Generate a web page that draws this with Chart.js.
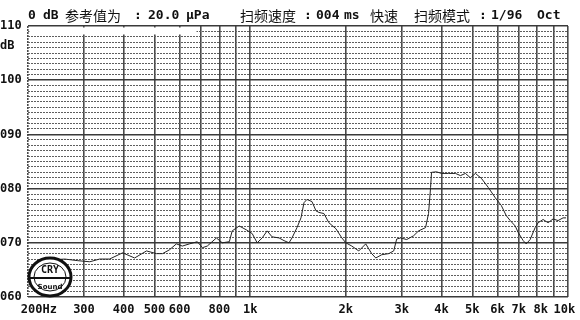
<!DOCTYPE html>
<html><head><meta charset="utf-8">
<script src="https://cdn.jsdelivr.net/npm/chart.js@4/dist/chart.umd.min.js"></script>
<style>html,body{margin:0;padding:0;background:#fff}</style>
</head><body>
<canvas id="c" width="580" height="320"></canvas>
<script>
// ---- data ----
const freqs = [230, 261, 287, 313, 336, 361, 397, 433, 472, 507, 530, 557, 586, 612, 644, 682, 708, 733, 783, 817, 860, 878, 924, 972, 1015, 1052, 1091, 1131, 1172, 1233, 1278, 1325, 1354, 1404, 1445, 1477, 1509, 1565, 1611, 1646, 1706, 1769, 1861, 1943, 2000, 2088, 2196, 2310, 2412, 2484, 2594, 2728, 2829, 2891, 2976, 3107, 3268, 3388, 3563, 3641, 3695, 3721, 3857, 4000, 4206, 4425, 4588, 4757, 4931, 5113, 5338, 5615, 5906, 6166, 6394, 6580, 6823, 6972, 7228, 7386, 7602, 7882, 8054, 8350, 8658, 8974, 9305, 9649, 9860];
const levels = [66.8, 67.0, 66.7, 66.5, 67.0, 67.0, 68.15, 67.2, 68.5, 68.0, 68.0, 68.7, 69.8, 69.4, 69.8, 70.2, 69.1, 69.4, 70.9, 70.0, 70.2, 72.2, 73.1, 72.4, 71.7, 70.0, 70.9, 72.2, 71.1, 70.9, 70.4, 70.0, 70.9, 72.8, 74.6, 77.4, 78.0, 77.6, 75.9, 75.6, 75.4, 73.7, 72.6, 70.9, 70.0, 69.4, 68.5, 69.8, 68.0, 67.2, 67.8, 68.0, 68.5, 70.7, 70.9, 70.6, 71.3, 72.2, 72.8, 75.4, 80.2, 83.0, 83.1, 82.8, 82.8, 82.8, 82.4, 82.8, 82.0, 82.8, 81.9, 80.2, 78.3, 76.9, 75.0, 74.1, 73.1, 71.9, 70.4, 69.8, 70.6, 72.8, 73.7, 74.3, 73.7, 74.4, 74.1, 74.6, 74.6];
const xGridValues = [200, 300, 400, 500, 600, 700, 800, 900, 1000, 2000, 3000, 4000, 5000, 6000, 7000, 8000, 9000, 10000];
const xTickLabels = ['   200Hz', '300', '400', '500', '600', '', '800', '', '1k', '2k', '3k', '4k', '5k', '6k', '7k', ' 8k', '', '10k '];
const yMin = 60, yMax = 110;
const yLabelValues = [60, 70, 80, 90, 100, 110];
const yLabelTexts = ['060', '070', '080', '090', '100', '110'];
const titleParts = [
  ['0', 28, 'a'], ['dB', 43, 'a'], ['参考值为', 65, 'c'], [':', 134, 'a'], ['20.0', 148, 'a'], ['μPa', 186, 'a'],
  ['扫频速度', 240, 'c'], [':', 304, 'a'], ['004', 316, 'a'], ['ms', 344, 'a'], ['快速', 370, 'c'],
  ['扫频模式', 414, 'c'], [':', 479, 'a'], ['1/96', 491, 'a'], ['Oct', 537, 'a']
];

const MONO = '"DejaVu Sans Mono", "Liberation Mono", monospace';

const decor = {
  id: 'decor',
  beforeDatasetsDraw(chart) {
    const ctx = chart.ctx, a = chart.chartArea;
    ctx.save();
    ctx.fillStyle = '#fff';
    ctx.fillRect(a.left + 1.5, a.top + 1.5, 167, 7);
    ctx.restore();
  },
  afterDraw(chart) {
    const ctx = chart.ctx;
    ctx.save();
    ctx.textBaseline = 'middle';
    ctx.textAlign = 'left';
    ctx.fillStyle = '#111';
    for (const [t, x, k] of titleParts) {
      ctx.font = k === 'a' ? 'bold 13px ' + MONO : '14px "Noto Sans CJK SC"';
      ctx.fillText(t, x, 16);
    }
    ctx.font = 'bold 12px ' + MONO;
    ctx.fillText('dB', 0, 46);
    // logo
    const cx = 50, cy = 277;
    ctx.beginPath(); ctx.ellipse(cx, cy, 21, 19, 0, 0, Math.PI * 2);
    ctx.fillStyle = '#fff'; ctx.fill();
    ctx.lineWidth = 3; ctx.strokeStyle = '#111'; ctx.stroke();
    ctx.beginPath(); ctx.ellipse(cx, cy, 16, 14, 0, 0, Math.PI * 2);
    ctx.lineWidth = 1; ctx.stroke();
    ctx.beginPath(); ctx.moveTo(cx - 20, cy + 1); ctx.lineTo(cx + 20, cy + 1); ctx.lineWidth = 2; ctx.stroke();
    ctx.fillStyle = '#111'; ctx.textAlign = 'center';
    ctx.font = 'bold 10px ' + MONO; ctx.fillText('CRY', cx, cy - 7);
    ctx.font = 'bold 7px "DejaVu Sans"'; ctx.fillText('Sound', cx, cy + 10);
    ctx.restore();
  }
};

new Chart(document.getElementById('c'), {
  type: 'line',
  data: {
    datasets: [{
      data: freqs.map((f, i) => ({ x: f, y: levels[i] })),
      borderColor: '#222',
      borderWidth: 1,
      pointRadius: 0,
      tension: 0,
      fill: false
    }]
  },
  options: {
    responsive: false,
    animation: false,
    devicePixelRatio: 1,
    layout: { padding: { top: 26, right: 12, left: 0, bottom: 0 } },
    plugins: { legend: { display: false }, tooltip: { enabled: false }, title: { display: false } },
    scales: {
      x: {
        type: 'logarithmic',
        min: 200, max: 10000,
        afterBuildTicks: (s) => { s.ticks = xGridValues.map(v => ({ value: v })); },
        afterFit: (s) => { s.height = 23; s.paddingLeft = 0; s.paddingRight = 0; },
        ticks: {
          autoSkip: false, maxRotation: 0, minRotation: 0, padding: 6,
          color: '#111', font: { family: MONO, size: 12, weight: 'bold' },
          callback: (v) => { const i = xGridValues.indexOf(v); return i >= 0 ? xTickLabels[i] : ''; }
        },
        grid: { color: '#4a4a4a', lineWidth: 1.6, drawTicks: false },
        border: {
          display: false,
          dash: (ctx) => (ctx.index === 0 ? [2, 1] : [])
        }
      },
      y: {
        min: yMin, max: yMax,
        afterFit: (s) => { s.width = 28; s.paddingTop = 0; s.paddingBottom = 0; },
        ticks: {
          stepSize: 1, autoSkip: false, crossAlign: 'far', padding: 0,
          color: '#111', font: { family: MONO, size: 12, weight: 'bold' },
          callback: (v) => { const i = yLabelValues.indexOf(v); return i >= 0 ? yLabelTexts[i] : ''; }
        },
        grid: {
          drawTicks: false,
          color: (ctx) => (ctx.tick && ctx.tick.value % 10 === 0 ? '#3a3a3a' : '#5e5e5e'),
          lineWidth: (ctx) => (ctx.tick && ctx.tick.value % 10 === 0 ? 1.5 : 1)
        },
        border: {
          display: false,
          dash: (ctx) => (ctx.tick && ctx.tick.value % 10 === 0 ? [] : [2, 1])
        }
      }
    }
  },
  plugins: [decor]
});
</script>
</body></html>
